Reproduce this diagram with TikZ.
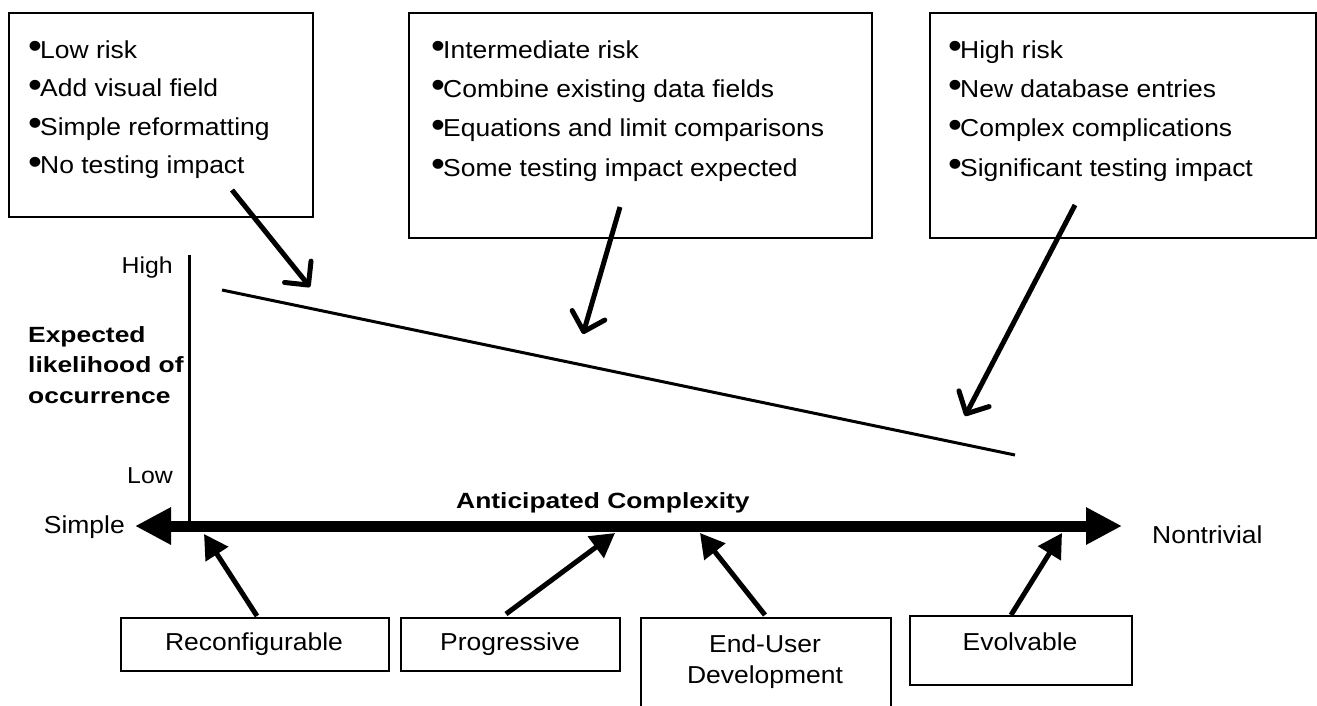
\documentclass[tikz,border=0pt]{standalone}
\usepackage{fontspec}
\setmainfont{Liberation Sans}[FakeStretch=1.08, BoldFeatures={FakeStretch=1.2}]
\usetikzlibrary{arrows.meta}
\newcommand\mybul{\rlap{\raisebox{-0.04em}{\scalebox{1.5}{\textbullet}}}\hspace{0.49em}}
\begin{document}
\begin{tikzpicture}[x=1pt,y=-1pt,
  frame/.style={draw, line width=1.6pt, inner sep=0pt, anchor=north west},
  txt/.style={anchor=base west, inner sep=0pt, font=\fontsize{24.5}{28}\selectfont},
  ctxt/.style={anchor=base, inner sep=0pt, font=\fontsize{24.5}{28}\selectfont},
  axlab/.style={anchor=base east, inner sep=0pt, font=\fontsize{23}{27}\selectfont},
  boldlab/.style={inner sep=0pt, font=\bfseries\fontsize{22}{30.5}\selectfont},
  topar/.style={line width=5pt, -{Straight Barb[length=17pt,width=34pt,round]}},
  botar/.style={line width=5pt, -{Triangle[length=24pt,width=26pt]}},
  mainax/.style={line width=11pt, {Triangle[length=36pt,width=35pt]}-{Triangle[length=36pt,width=35pt]}},
  thin/.style={line width=3pt}
]
\useasboundingbox (0,0) rectangle (1317,705);

% top boxes
\node[frame, minimum width=304pt, minimum height=204pt] (b1) at (8,12) {};
\node[frame, minimum width=463pt, minimum height=225pt] (b2) at (408,12) {};
\node[frame, minimum width=386pt, minimum height=225pt] (b3) at (929,12) {};

\node[txt] (t11) at (28,58) {\mybul Low risk};
\node[txt] (t12) at (28,96.5) {\mybul Add visual field};
\node[txt] (t13) at (28,135) {\mybul Simple reformatting};
\node[txt] (t14) at (28,173.5) {\mybul No testing impact};

\node[txt] (t21) at (431,58) {\mybul Intermediate risk};
\node[txt] (t22) at (431,97) {\mybul Combine existing data fields};
\node[txt] (t23) at (431,136.5) {\mybul Equations and limit comparisons};
\node[txt] (t24) at (431,176) {\mybul Some testing impact expected};

\node[txt] (t31) at (948,58) {\mybul High risk};
\node[txt] (t32) at (948,97) {\mybul New database entries};
\node[txt] (t33) at (948,136.5) {\mybul Complex complications};
\node[txt] (t34) at (948,176) {\mybul Significant testing impact};

% axes
\coordinate (vtop) at (189,255);
\coordinate (vbot) at (189,526);
\coordinate (axL) at (135,526);
\coordinate (axR) at (1122,526);
\draw[thin] (vtop) -- (vbot);
\draw[mainax] (axL) -- (axR);

\node[axlab] (high) at (173,273) {High};
\node[axlab] (low) at (173,483) {Low};
\node[boldlab, anchor=north west, align=left] (ylab) at (28,326) {Expected\\likelihood of\\occurrence};
\node[boldlab, anchor=base west] (xlab) at (456,508) {Anticipated Complexity};
\node[txt, anchor=base east] (simple) at (125,533) {Simple};
\node[txt] (nontriv) at (1152,543) {Nontrivial};

% trend line
\coordinate (trA) at (222,290);
\coordinate (trB) at (1015,455);
\draw[thin] (trA) -- (trB);

% arrows from top boxes
\coordinate (a1s) at (232,190);
\coordinate (a1e) at (310,287);
\coordinate (a2s) at (620,207);
\coordinate (a2e) at (583,334);
\coordinate (a3s) at (1075,205);
\coordinate (a3e) at (965,416);
\draw[topar] (a1s) -- (a1e);
\draw[topar] (a2s) -- (a2e);
\draw[topar] (a3s) -- (a3e);

% bottom boxes
\node[frame, minimum width=268pt, minimum height=53pt] (rb) at (120,617) {};
\node[frame, minimum width=219pt, minimum height=53pt] (pb) at (400,617) {};
\node[frame, minimum width=250pt, minimum height=100pt] (eb) at (640,617) {};
\node[frame, minimum width=222pt, minimum height=69pt] (vb) at (909,615) {};

\node[ctxt] (rt) at (254,650) {Reconfigurable};
\node[ctxt] (pt) at (510,650) {Progressive};
\node[ctxt] (et1) at (765,652) {End-User};
\node[ctxt] (et2) at (765,683) {Development};
\node[ctxt] (vt) at (1020,650) {Evolvable};

% arrows from bottom boxes
\coordinate (r1s) at (257,616);
\coordinate (r1e) at (204,534);
\coordinate (r2s) at (506,614);
\coordinate (r2e) at (615,533);
\coordinate (r3s) at (765,615);
\coordinate (r3e) at (700,533);
\coordinate (r4s) at (1011,615);
\coordinate (r4e) at (1062,533);
\draw[botar] (r1s) -- (r1e);
\draw[botar] (r2s) -- (r2e);
\draw[botar] (r3s) -- (r3e);
\draw[botar] (r4s) -- (r4e);
\end{tikzpicture}
\end{document}
